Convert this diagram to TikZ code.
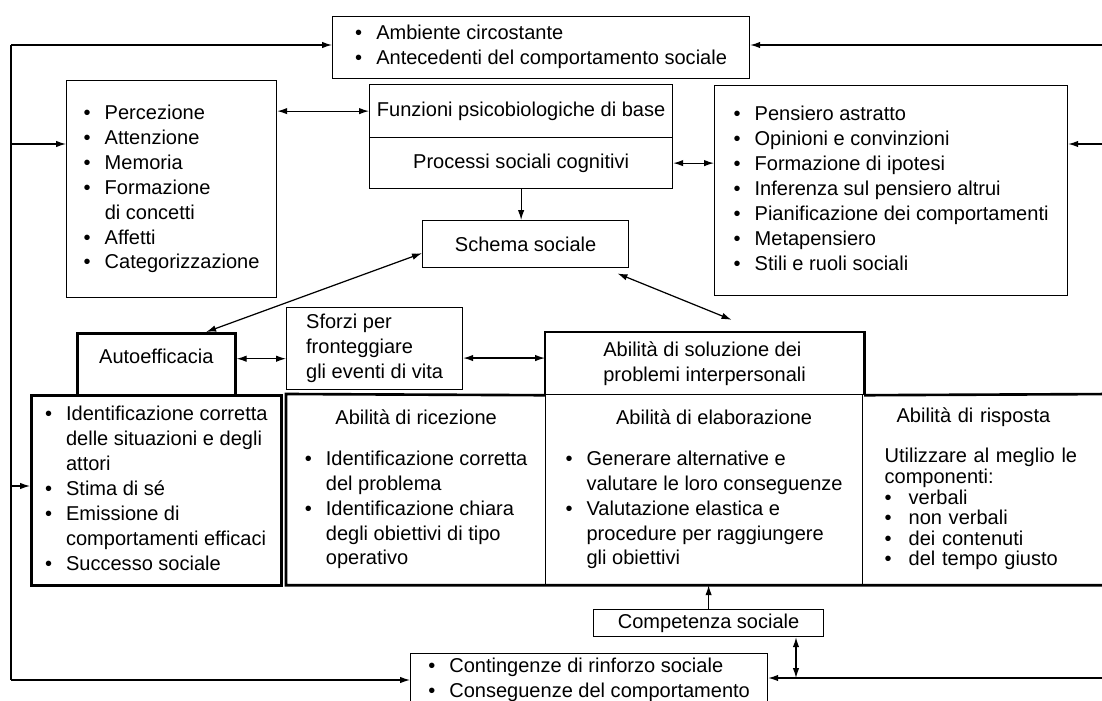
\documentclass[tikz,border=0pt]{standalone}
\usepackage{fontspec}
\setmainfont{Liberation Sans}
\usetikzlibrary{arrows.meta}
\newcommand{\pxu}{0.02cm}
\newcommand{\bl}{\textbullet}
\newcommand{\pts}[1]{\begin{tabular}{@{}l@{\hspace{0.7em}}l@{}}#1\end{tabular}}

\begin{document}
\begin{tikzpicture}[x=0.02cm, y=-0.02cm, line width=0.7pt,
    font={\fontsize{11.4}{14.2}\selectfont},
    cell/.style={anchor=north west},
    box/.style={cell, draw},
    heavybox/.style={cell, draw, line width=1.5pt},
    heavy/.style={line width=1.5pt},
    tip/.style={-{Latex[length=2mm,width=1.3mm]}},
    twotip/.style={{Latex[length=2mm,width=1.3mm]}-{Latex[length=2mm,width=1.3mm]}}]
    \useasboundingbox (0,0) rectangle (1102,700);
    \clip (0,0) rectangle (1102,700);

    \node[box, minimum width=417*\pxu, minimum height=60*\pxu] (amb) at (332,16) {\pts{\bl & Ambiente circostante\\ \bl & Antecedenti del comportamento sociale}};
    \node[box, minimum width=210*\pxu, minimum height=217*\pxu] (perc) at (66,80) {\pts{\bl & Percezione\\ \bl & Attenzione\\ \bl & Memoria\\ \bl & Formazione\\ & di concetti\\ \bl & Affetti\\ \bl & Categorizzazione}};
    \node[box, minimum width=303*\pxu, minimum height=53*\pxu] (funz) at (369,84) {Funzioni psicobiologiche di base};
    \node[box, minimum width=303*\pxu, minimum height=51*\pxu] (proc) at (369,137) {Processi sociali cognitivi};
    \node[box, minimum width=353*\pxu, minimum height=210*\pxu] (pens) at (714,85) {\pts{\bl & Pensiero astratto\\ \bl & Opinioni e convinzioni\\ \bl & Formazione di ipotesi\\ \bl & Inferenza sul pensiero altrui\\ \bl & Pianificazione dei comportamenti\\ \bl & Metapensiero\\ \bl & Stili e ruoli sociali}};
    \node[box, minimum width=206*\pxu, minimum height=47*\pxu] (schema) at (422,220) {Schema sociale};

    \node[heavybox, minimum width=158*\pxu, minimum height=62*\pxu, text depth=9pt] (auto) at (76,332) {Autoefficacia};
    \node[heavybox, minimum width=250*\pxu, minimum height=190*\pxu] (autolist) at (30,394) {\pts{\bl & Identificazione corretta\\ & delle situazioni e degli\\ & attori\\ \bl & Stima di sé\\ \bl & Emissione di\\ & comportamenti efficaci\\ \bl & Successo sociale}};
    \node[box, minimum width=176*\pxu, minimum height=82*\pxu, align=left, inner ysep=1pt] (sforzi) at (286,307) {Sforzi per\\ fronteggiare\\ gli eventi di vita};
    \node[cell, minimum width=318*\pxu, minimum height=62*\pxu, align=left] (sol) at (545,332) {Abilità di soluzione dei\\ problemi interpersonali};

    \node[box, minimum width=259*\pxu, minimum height=190*\pxu] (ric) at (286,394) {\pts{\multicolumn{2}{@{}c@{}}{Abilità di ricezione}\\[0.32cm] \bl & Identificazione corretta\\ & del problema\\ \bl & Identificazione chiara\\ & degli obiettivi di tipo\\ & operativo}};
    \node[box, minimum width=317*\pxu, minimum height=190*\pxu] (ela) at (545,394) {\pts{\multicolumn{2}{@{\hspace{0.4cm}}c@{}}{Abilità di elaborazione}\\[0.32cm] \bl & Generare alternative e\\ & valutare le loro conseguenze\\ \bl & Valutazione elastica e\\ & procedure per raggiungere\\ & gli obiettivi}};
    \node[box, minimum height=190*\pxu, text width=206*\pxu, inner xsep=22*\pxu, align=left] (ris) at (862,394) {\fontsize{11.4}{11.4}\selectfont\begin{tabular}{@{}l@{\hspace{0.85em}}l@{}}\multicolumn{2}{@{\hspace{0.24cm}}l@{}}{Abilità di risposta}\\[11.4pt] \multicolumn{2}{@{}l@{}}{Utilizzare al meglio le}\\ \multicolumn{2}{@{}l@{}}{componenti:}\\ \bl & verbali\\ \bl & non verbali\\ \bl & dei contenuti\\ \bl & del tempo giusto\end{tabular}};
    \draw[heavy] (sol.south west) |- (sol.north east) -- (sol.south east);
    \draw[heavy] (sol.south west) -- (ric.north west) -- (ric.south west) -- (ris.south east);
    \draw[heavy] (sol.south east) -- (ris.north east);

    \node[box, minimum width=230*\pxu, minimum height=27*\pxu, inner ysep=0pt] (comp) at (593,609) {Competenza sociale};
    \node[box, minimum width=357*\pxu, inner ysep=1pt] (bot) at (410,653) {\pts{\bl & Contingenze di rinforzo sociale\\ \bl & Conseguenze del comportamento}};

    \coordinate (lt) at (11,45);
    \coordinate (lb) at (11,680);
    \coordinate (l2) at (11,144);
    \coordinate (l3) at (11,486);
    \coordinate (r1) at (1110,45);
    \coordinate (r2) at (1110,144);
    \coordinate (r3) at (1110,678);
    \coordinate (cb) at (796,678);

    \draw (lt) -- (lb);
    \draw[tip] (lt) -- (lt -| amb.west);
    \draw[tip] (l2) -- (l2 -| perc.west);
    \draw[tip] (l3) -- (l3 -| autolist.west);
    \draw[tip] (lb) -- (lb -| bot.west);
    \draw[tip] (r1) -- (r1 -| amb.east);
    \draw[tip] (r2) -- (r2 -| pens.east);
    \draw[tip] (r3) -- (r3 -| bot.east);

    \draw[twotip] (funz.west -| perc.east) -- (funz.west);
    \draw[twotip] (proc.east) -- (proc.east -| pens.west);
    \draw[tip] (proc.south) -- (proc.south |- schema.north);
    \draw[twotip] (schema.185) -- (auto.33);
    \draw[twotip, shorten <=0.28cm, shorten >=0.65cm] (schema.343) -- (sol.29);
    \draw[twotip] (auto.4) -- (auto.4 -| sforzi.west);
    \draw[twotip] (sol.178) -- (sol.178 -| sforzi.east);
    \draw[tip] (comp.north) -- (comp.north |- ela.south);
    \draw[twotip] (comp.south -| cb) -- (cb);
\end{tikzpicture}
\end{document}
